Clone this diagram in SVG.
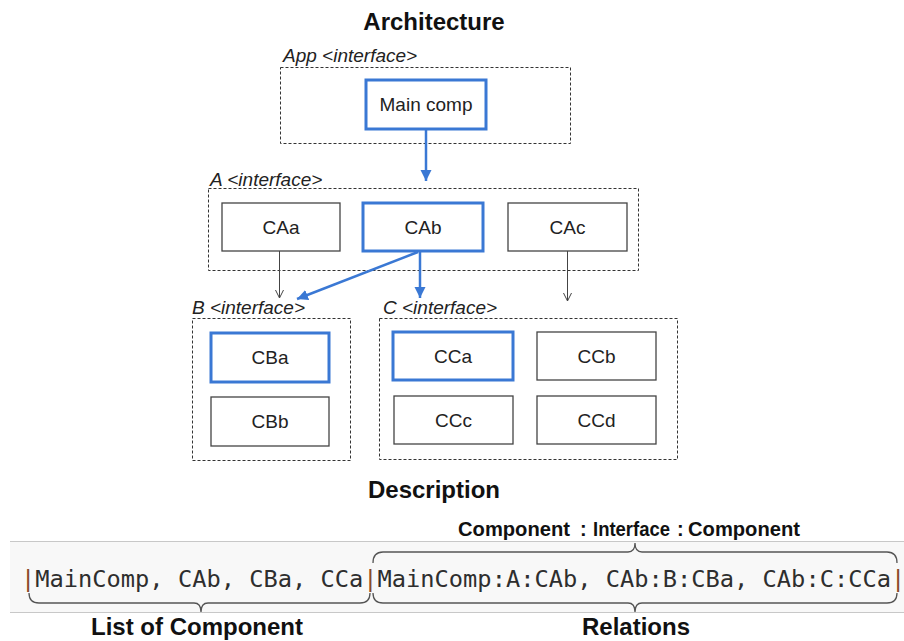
<svg xmlns="http://www.w3.org/2000/svg" width="904" height="641" viewBox="0 0 904 641">
  <style>
    .title { font-family: "Liberation Sans", Arial, sans-serif; font-size: 24px; font-weight: bold; fill: #111; text-anchor: middle; }
    .iface { font-family: "Liberation Sans", Arial, sans-serif; font-size: 19px; font-style: italic; fill: #222; }
    .label { font-family: "Liberation Sans", Arial, sans-serif; font-size: 19px; fill: #222; text-anchor: middle; }
    .group { fill: none; stroke: #333; stroke-width: 1; stroke-dasharray: 3 2; }
    .comp { fill: #fff; stroke: #444; stroke-width: 1.3; }
    .sel { fill: #fff; stroke: #3a78d4; stroke-width: 3; }
    .blue { stroke: #3a78d4; stroke-width: 2.5; fill: none; }
    .thin { stroke: #444; stroke-width: 1; fill: none; }
    .code { font-family: "DejaVu Sans Mono", "Liberation Mono", monospace; font-size: 23.7px; fill: #2e2e2e; }
    .bar { fill: #8a4a28; }
    .brace { fill: none; stroke: #555; stroke-width: 1.3; }
    .sub { font-family: "Liberation Sans", Arial, sans-serif; font-size: 20px; font-weight: bold; fill: #111; }
  </style>
  <defs>
    <marker id="arrow-blue" markerUnits="userSpaceOnUse" markerWidth="12" markerHeight="12" refX="11" refY="5.5" orient="auto">
      <path d="M0,0 L11,5.5 L0,11 z" fill="#3a78d4"/>
    </marker>
    <marker id="arrow-thin" markerUnits="userSpaceOnUse" markerWidth="10" markerHeight="10" refX="8" refY="4" orient="auto">
      <path d="M0,0 L8,4 L0,8" fill="none" stroke="#444" stroke-width="1"/>
    </marker>
  </defs>

  <rect width="904" height="641" fill="#fff"/>

  <text class="title" x="434" y="30">Architecture</text>

  <!-- App interface -->
  <g id="app">
    <text class="iface" x="283" y="62">App &lt;interface&gt;</text>
    <rect class="group" x="280.5" y="67.5" width="290" height="76"/>
  </g>
  <g id="main-comp">
    <rect class="sel" x="366" y="80" width="120" height="49"/>
    <text class="label" x="426" y="111">Main comp</text>
  </g>

  <!-- A interface -->
  <g id="iface-a">
    <text class="iface" x="210" y="186">A &lt;interface&gt;</text>
    <rect class="group" x="208.5" y="188.5" width="430" height="82"/>
  </g>
  <g id="caa">
    <rect class="comp" x="222" y="203" width="118" height="48"/>
    <text class="label" x="281" y="234">CAa</text>
  </g>
  <g id="cab">
    <rect class="sel" x="363" y="203" width="120" height="48"/>
    <text class="label" x="423" y="234">CAb</text>
  </g>
  <g id="cac">
    <rect class="comp" x="508" y="203" width="119" height="48"/>
    <text class="label" x="567.5" y="234">CAc</text>
  </g>

  <!-- B interface -->
  <g id="iface-b">
    <text class="iface" x="192" y="314">B &lt;interface&gt;</text>
    <rect class="group" x="192.5" y="318.5" width="158" height="142"/>
  </g>
  <g id="cba">
    <rect class="sel" x="211" y="333" width="118" height="49"/>
    <text class="label" x="270" y="364">CBa</text>
  </g>
  <g id="cbb">
    <rect class="comp" x="211" y="397" width="118" height="49"/>
    <text class="label" x="270" y="428">CBb</text>
  </g>

  <!-- C interface -->
  <g id="iface-c">
    <text class="iface" x="383" y="314">C &lt;interface&gt;</text>
    <rect class="group" x="379.5" y="318.5" width="298" height="141"/>
  </g>
  <g id="cca">
    <rect class="sel" x="393" y="332" width="120" height="48"/>
    <text class="label" x="453" y="363">CCa</text>
  </g>
  <g id="ccb">
    <rect class="comp" x="537" y="332" width="119" height="48"/>
    <text class="label" x="596.5" y="363">CCb</text>
  </g>
  <g id="ccc">
    <rect class="comp" x="394" y="396" width="119" height="48"/>
    <text class="label" x="453.5" y="427">CCc</text>
  </g>
  <g id="ccd">
    <rect class="comp" x="537" y="396" width="119" height="48"/>
    <text class="label" x="596.5" y="427">CCd</text>
  </g>

  <!-- connectors -->
  <g id="connectors">
    <line class="blue" x1="426" y1="130" x2="426" y2="181" marker-end="url(#arrow-blue)"/>
    <line class="blue" x1="418" y1="252" x2="297" y2="299" marker-end="url(#arrow-blue)"/>
    <line class="blue" x1="420" y1="252" x2="420" y2="298" marker-end="url(#arrow-blue)"/>
    <line class="thin" x1="279.5" y1="251" x2="279.5" y2="298" marker-end="url(#arrow-thin)"/>
    <line class="thin" x1="567.5" y1="251" x2="567.5" y2="301" marker-end="url(#arrow-thin)"/>
  </g>

  <text class="title" x="434" y="498">Description</text>

  <!-- heading above the relation brace -->
  <text class="sub" y="536"><tspan x="458" textLength="112" lengthAdjust="spacingAndGlyphs">Component</tspan><tspan x="580">:</tspan><tspan x="593" textLength="77" lengthAdjust="spacingAndGlyphs">Interface</tspan><tspan x="677">:</tspan><tspan x="688" textLength="112" lengthAdjust="spacingAndGlyphs">Component</tspan></text>

  <!-- encoded description string -->
  <rect x="10" y="541" width="894" height="72" fill="#f8f8f8"/>
  <line x1="10" y1="541.5" x2="904" y2="541.5" stroke="#c8c8c8" stroke-width="1"/>
  <line x1="10" y1="612.5" x2="904" y2="612.5" stroke="#c8c8c8" stroke-width="1"/>
  <text class="code" x="21" y="587"><tspan class="bar">|</tspan>MainComp, CAb, CBa, CCa<tspan class="bar">|</tspan>MainComp:A:CAb, CAb:B:CBa, CAb:C:CCa<tspan class="bar">|</tspan></text>

  <!-- braces -->
  <path class="brace" d="M29,593 Q29,603 39,603 L194,603 Q201,603 201,612 Q201,603 208,603 L360,603 Q370,603 370,593"/>
  <path class="brace" d="M373,593 Q373,603 383,603 L628,603 Q635,603 635,612 Q635,603 642,603 L887,603 Q897,603 897,593"/>
  <path class="brace" d="M373,563 Q373,552 383,552 L628,552 Q635,552 635,543 Q635,552 642,552 L887,552 Q897,552 897,563"/>

  <text class="title" x="197" y="635">List of Component</text>
  <text class="title" x="636" y="635">Relations</text>
</svg>
